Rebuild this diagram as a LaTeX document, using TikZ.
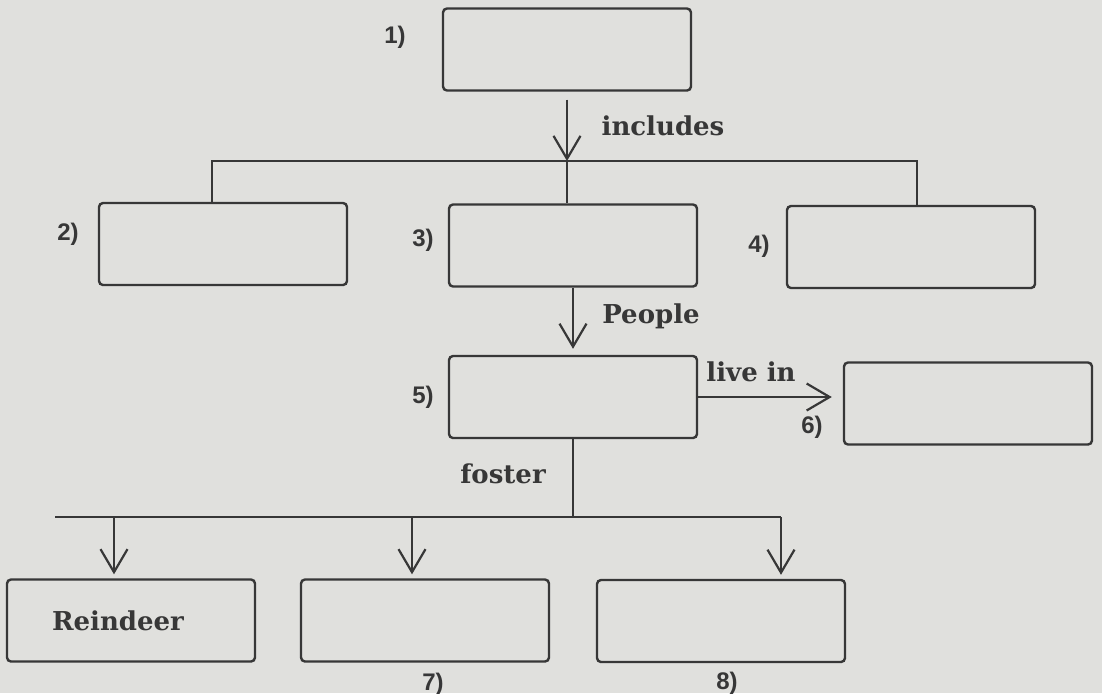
\documentclass[tikz,border=0pt]{standalone}
\usepackage{fontspec}
\setmainfont{DejaVu Serif}
\newfontfamily\numfont{Liberation Sans}
\usepackage{tikz}
\usetikzlibrary{arrows.meta,positioning}
\definecolor{paper}{RGB}{224,224,221}
\definecolor{ink}{RGB}{55,55,55}

\begin{document}
\begin{tikzpicture}[x=0.5pt, y=-0.5pt, line width=1.1pt, draw=ink, text=ink,
	blank/.style={draw, line width=1.2pt, rounded corners=2pt, minimum width=124pt, minimum height=41pt, inner sep=0pt},
	lbl/.style={font=\bfseries\fontsize{13}{15}\selectfont},
	num/.style={font=\numfont\bfseries\fontsize{12}{14}\selectfont},
	vee/.style={-{Straight Barb[length=11.5pt,width=13.5pt]}}]
\def \busone {161}
\def \bustwo {517}

%paper
\useasboundingbox (0,0) rectangle (1102,693);
\fill[paper] (0,0) rectangle (1102,693);

%Top box
\node[blank] (box1) at (567,49.5) {};
\node[num] (n1) at (395,37) {1)};

%Second row
\node[blank] (box2) at (223,244) {};
\node[blank] (box3) at (573,245.5) {};
\node[blank] (box4) at (911,247) {};
\node[num] (n2) at (68,234) {2)};
\node[num] (n3) at (423,240) {3)};
\node[num] (n4) at (759,246) {4)};

%Middle boxes
\node[blank] (box5) at (573,397) {};
\node[blank] (box6) at (968,403.5) {};
\node[num] (n5) at (423,397) {5)};
\node[num] (n6) at (812,427) {6)};

%Bottom row
\node[blank, lbl] (boxR) at (131,620.5) {Reindeer\kern13pt};
\node[blank] (box7) at (425,620.5) {};
\node[blank] (box8) at (721,621) {};
\node[num] (n7) at (433,684) {7)};
\node[num] (n8) at (727,683) {8)};

%Labels on the lines
\node[lbl, anchor=base] (incl) at (663,135) {includes};
\node[lbl, anchor=base] (ppl) at (651,323) {People};
\node[lbl, anchor=base] (live) at (751,381) {live in};
\node[lbl, anchor=base] (fost) at (503,483) {foster};

%Line between top box and second row
\coordinate (inc) at (567,\busone);
\coordinate (hl) at (212,\busone);
\coordinate (hr) at (917,\busone);
\draw[vee, shorten <=4pt] (box1) -- (inc);
\draw (box2.north -| hl) -- (hl) -- (hr) -- (box4.north -| hr);
\draw (inc) -- (inc |- box3.north);

%Line down to box 5 and across to box 6
\draw[vee, shorten >=3pt] (box3) -- (box5);
\draw[vee, shorten >=5.5pt] (box5.east) -- (box5.east -| box6.west);

%Line between box 5 and bottom row
\coordinate (fm) at (573,\bustwo);
\coordinate (fl) at (55,\bustwo);
\coordinate (f1) at (114,\bustwo);
\coordinate (f2) at (412,\bustwo);
\coordinate (f3) at (781,\bustwo);
\draw (box5) -- (fm);
\draw (fl) -- (f3);
\draw[vee, shorten >=2pt] (f1) -- (f1 |- boxR.north);
\draw[vee, shorten >=2pt] (f2) -- (f2 |- box7.north);
\draw[vee, shorten >=2pt] (f3) -- (f3 |- box8.north);

\end{tikzpicture}
\end{document}
